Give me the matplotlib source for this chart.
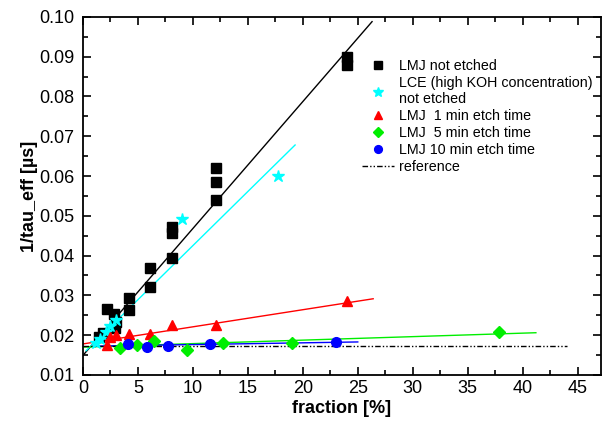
import matplotlib
matplotlib.use("Agg")
import matplotlib.pyplot as plt
from matplotlib.ticker import MultipleLocator, FormatStrFormatter

plt.rcParams["font.family"] = ["Liberation Sans", "DejaVu Sans"]

# LMJ not etched
nonetch_x = [1.5, 1.8, 2.2, 2.8, 2.9, 3.0, 4.2, 4.2, 6.1, 6.1, 8.1, 8.1, 8.1, 12.1, 12.1, 12.1, 24.0, 24.0]
nonetch_y = [0.0195, 0.0205, 0.0265, 0.0252, 0.0218, 0.0232, 0.0294, 0.0263, 0.0369, 0.0321,
             0.0472, 0.0457, 0.0394, 0.0620, 0.0585, 0.0540, 0.0900, 0.0880]
# LCE (high KOH concentration) not etched
lce_x = [1.2, 1.6, 2.1, 2.5, 3.0, 9.0, 17.7]
lce_y = [0.0180, 0.0190, 0.0208, 0.0222, 0.0238, 0.0492, 0.0600]
# LMJ 1 min etch time
etch1_x = [2.2, 2.5, 3.0, 4.2, 6.1, 8.1, 12.1, 24.0]
etch1_y = [0.0176, 0.0196, 0.0200, 0.0202, 0.0203, 0.0226, 0.0225, 0.0285]
# LMJ 5 min etch time
etch5_x = [3.4, 4.9, 6.5, 9.5, 12.7, 19.0, 37.8]
etch5_y = [0.0168, 0.0175, 0.0185, 0.0164, 0.0180, 0.0180, 0.0208]
# LMJ 10 min etch time
etch10_x = [4.1, 5.8, 7.7, 11.6, 23.0]
etch10_y = [0.0178, 0.0171, 0.0172, 0.0177, 0.0183]

# linear fits (intercept, slope, x range)
fit_black = (0.0149, 0.00319, 0.0, 26.3)
fit_cyan = (0.0153, 0.00272, 0.3, 19.3)
fit_red = (0.0178, 0.00043, 0.0, 26.4)
fit_green = (0.0170, 0.0000878, 0.0, 41.2)
fit_blue = (0.0172, 0.0000440, 1.0, 25.0)
ref_y = 0.0173
ref_x = [0.0, 44.0]

fig = plt.figure(figsize=(6.05, 4.32), dpi=100)
ax = fig.add_axes([0.137, 0.132, 0.856, 0.829])


def fit_line(fit, color, lw=1.0):
    a, b, x0, x1 = fit
    ax.plot([x0, x1], [a + b * x0, a + b * x1], color=color, lw=lw, zorder=2)


fit_line(fit_black, "black")
fit_line(fit_cyan, "cyan")
fit_line(fit_red, "red")
fit_line(fit_green, "#00ee00")
fit_line(fit_blue, "blue")

ax.plot(nonetch_x, nonetch_y, "s", color="black", ms=6.5, ls="none", label="LMJ not etched", zorder=3)
ax.plot(lce_x, lce_y, "*", color="cyan", ms=9, ls="none",
        label="LCE (high KOH concentration)\nnot etched", zorder=3)
ax.plot(etch1_x, etch1_y, "^", color="red", ms=7.5, ls="none", label="LMJ  1 min etch time", zorder=3)
ax.plot(etch5_x, etch5_y, "D", color="#00ee00", ms=6.5, ls="none", label="LMJ  5 min etch time", zorder=3)
ax.plot(etch10_x, etch10_y, "o", color="blue", ms=7, ls="none", label="LMJ 10 min etch time", zorder=3)
ax.plot(ref_x, [ref_y, ref_y], color="black", lw=1.0, ls=(0, (4, 1.5, 1, 1.5, 1, 1.5)),
        label="reference", zorder=2)

ax.set_xlim(0, 47.1)
ax.set_ylim(0.01, 0.10)
ax.xaxis.set_major_locator(MultipleLocator(5))
ax.xaxis.set_minor_locator(MultipleLocator(2.5))
ax.yaxis.set_major_locator(MultipleLocator(0.01))
ax.yaxis.set_minor_locator(MultipleLocator(0.005))
ax.yaxis.set_major_formatter(FormatStrFormatter("%.2f"))
ax.tick_params(which="both", direction="in", top=True, right=True, labelsize=13, width=1.2)
ax.tick_params(which="major", length=6)
ax.tick_params(which="minor", length=3.5)
ax.tick_params(axis="y", pad=6)
for s in ax.spines.values():
    s.set_linewidth(1.3)

ax.set_xlabel("fraction [%]", fontsize=13, fontweight="bold", labelpad=2)
ax.set_ylabel("1/tau_eff [µs]", fontsize=13, fontweight="bold", labelpad=1)

leg = ax.legend(loc="upper left", bbox_to_anchor=(0.527, 0.898), frameon=False, fontsize=10.3,
                handlelength=2.3, handletextpad=0.3, labelspacing=0.2, borderaxespad=0,
                markerscale=0.8)

fig.savefig("out.png", dpi=100)
